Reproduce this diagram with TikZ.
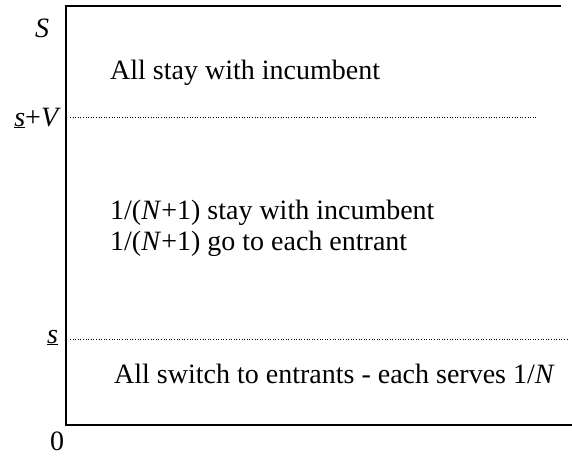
\documentclass[tikz,border=0pt]{standalone}
\usepackage{fontspec}
\setmainfont{Liberation Serif}
\begin{document}
\begin{tikzpicture}[x=1pt,y=-1pt,
  axisline/.style={line width=2.2pt},
  level/.style={line width=0.8pt, dash pattern=on 1pt off 1.6pt},
  lbl/.style={font=\fontsize{28}{33}\selectfont, inner sep=0pt},
  region/.style={font=\fontsize{28}{33}\selectfont, inner sep=0pt, anchor=base west}]
\useasboundingbox (0,0) rectangle (572,459);
% axis frame
\coordinate (top) at (66,6);
\coordinate (bot) at (66,425);
\coordinate (topR) at (561,6);
\coordinate (botR) at (572,425);
\draw[axisline] (topR) -- (top) -- (bot) -- (botR);
% threshold levels
\coordinate (sv0) at (70,117);
\coordinate (sv1) at (537,117);
\coordinate (s0) at (70,339);
\coordinate (s1) at (567,339);
\draw[level] (sv0) -- (sv1);
\draw[level] (s0) -- (s1);
% axis labels
\node[lbl, anchor=base west] (labS) at (35,37) {\textit{S}};
\node[lbl, anchor=base east] (labSV) at (61,126) {\underline{\textit{s}}+\textit{V}};
\node[lbl, anchor=base west] (labs) at (47,343) {\underline{\textit{s}}};
\node[lbl, anchor=base west] (lab0) at (50,450) {0};
% region descriptions
\node[region] (r1) at (110,79) {All stay with incumbent};
\node[region] (r2) at (110,219) {1/(\textit{N}+1) stay with incumbent};
\node[region] (r3) at (110,250) {1/(\textit{N}+1) go to each entrant};
\node[region] (r4) at (114,383) {All switch to entrants - each serves 1/\textit{N}};
\end{tikzpicture}
\end{document}
